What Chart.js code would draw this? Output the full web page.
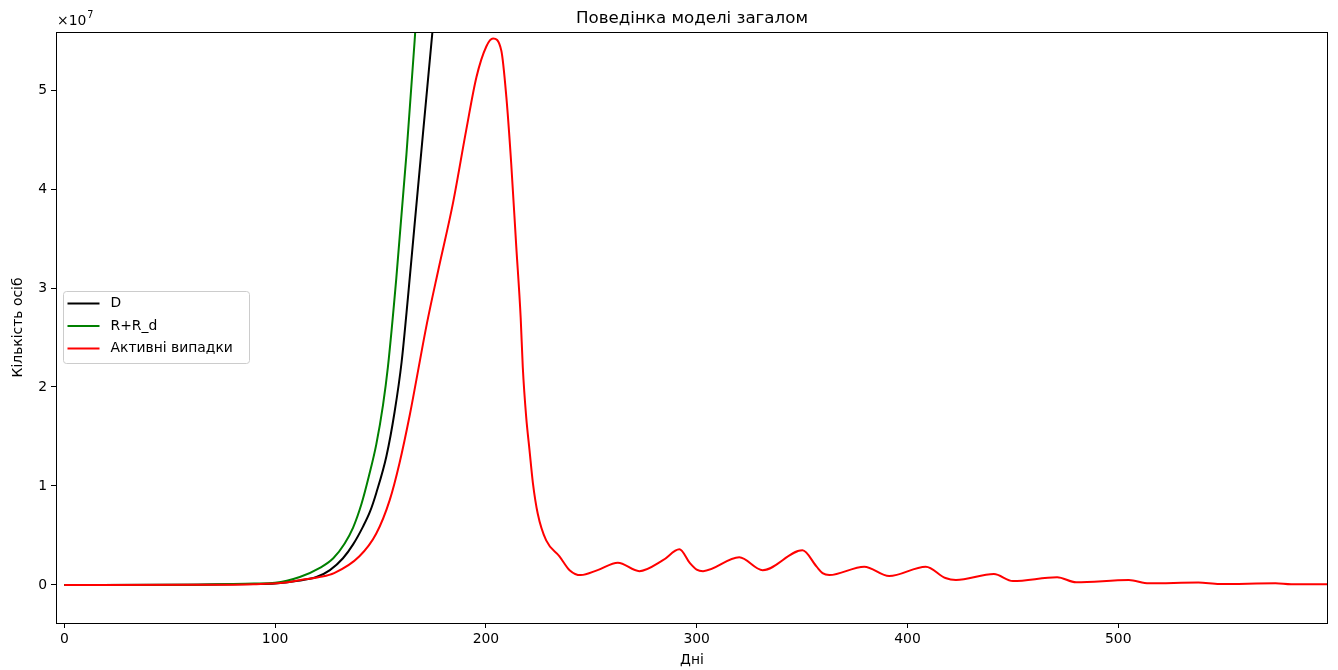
<!DOCTYPE html>
<html lang="uk">
<head>
<meta charset="UTF-8">
<title>Поведінка моделі загалом</title>
<style>
    html, body { margin: 0; padding: 0; background: #fff; }
    #wrap { width: 1338px; height: 670px; }
</style>
</head>
<body>
<div id="wrap"><canvas id="canvas"></canvas></div>

<script src="https://cdn.jsdelivr.net/npm/chart.js@4.4.0/dist/chart.umd.min.js"></script>
<script>
    // all values are in units of 10^7 persons
    const dDays = [0, 60, 90, 100, 110, 119.6, 126, 132.2, 137, 141.7, 145, 148, 152.8, 156.7, 160, 163, 166, 170.1, 174.9, 177];
    const dValues = [0, 0.002, 0.01, 0.016, 0.04, 0.08, 0.15, 0.27, 0.41, 0.59, 0.74, 0.93, 1.3, 1.75, 2.25, 2.9, 3.6, 4.55, 5.65, 6.15];

    const rDays = [0, 60, 90, 100, 111.7, 121, 127.6, 133, 137, 141, 144.5, 148, 151.2, 153.5, 157.5, 162.3, 166.2, 168];
    const rValues = [0, 0.003, 0.015, 0.022, 0.08, 0.17, 0.27, 0.42, 0.58, 0.82, 1.1, 1.42, 1.82, 2.2, 3.1, 4.35, 5.5, 6.1];

    const activeDays = [0, 60, 90, 105, 112, 121, 128, 140, 148, 154.4, 159, 164, 167, 172, 177.4, 184.4, 190.7, 195.5,
        200.2, 203.4, 207.3, 209.7, 212, 214.4, 216.5, 217.5, 219.1, 220.7, 222.3, 224.6, 228.6, 234.9, 239.7, 245,
        253, 262.6, 272.8, 284, 291.8, 296.8, 300, 303, 320.2, 331.3, 350.2, 356.9, 359.7, 362.9, 379.5, 391.3,
        408.7, 418, 423, 441, 450, 471, 480, 505, 514.5, 538, 548, 574.6, 582, 599.5];
    const activeValues = [0, 0.002, 0.008, 0.025, 0.05, 0.08, 0.12, 0.29, 0.52, 0.86, 1.23, 1.73, 2.07, 2.64, 3.18, 3.86, 4.60, 5.13,
        5.44, 5.52, 5.40, 4.93, 4.26, 3.42, 2.7, 2.2, 1.70, 1.36, 1.03, 0.72, 0.45, 0.29, 0.15, 0.10,
        0.15, 0.225, 0.14, 0.25, 0.36, 0.22, 0.155, 0.14, 0.28, 0.15, 0.35, 0.185, 0.12, 0.10, 0.185, 0.09,
        0.185, 0.07, 0.05, 0.11, 0.04, 0.078, 0.027, 0.05, 0.017, 0.024, 0.01, 0.017, 0.007, 0.007];

    const yTicks = [0, 1, 2, 3, 4, 5];
    const xTicks = [0, 100, 200, 300, 400, 500];

    const FONT = 'DejaVu Sans';

    const toPoints = (xs, ys) => xs.map((x, i) => ({ x: x, y: ys[i] }));

    const line = (label, xs, ys, color, order) => ({
        label: label,
        data: toPoints(xs, ys),
        borderColor: color,
        backgroundColor: color,
        borderWidth: 2,
        pointRadius: 0,
        fill: false,
        cubicInterpolationMode: 'monotone',
        order: order
    });

    // title, offset text, axis labels, frame and legend
    const decor = {
        id: 'decor',
        afterDraw(chart) {
            const ctx = chart.ctx;
            const a = chart.chartArea;
            ctx.save();

            ctx.strokeStyle = '#000';
            ctx.lineWidth = 1;
            ctx.strokeRect(a.left + 0.5, a.top + 0.5, a.right - a.left - 1, a.bottom - a.top);

            ctx.fillStyle = '#000';
            ctx.textBaseline = 'alphabetic';
            ctx.textAlign = 'center';
            ctx.font = '16.67px "' + FONT + '"';
            ctx.fillText('Поведінка моделі загалом', (a.left + a.right) / 2, 23);

            ctx.textAlign = 'left';
            ctx.font = '13.9px "' + FONT + '"';
            ctx.fillText('×10', a.left + 1, 25);
            const w = ctx.measureText('×10').width;
            ctx.font = '9.7px "' + FONT + '"';
            ctx.fillText('7', a.left + 1 + w + 1, 18);

            ctx.font = '13.9px "' + FONT + '"';
            ctx.textAlign = 'center';
            ctx.textBaseline = 'middle';
            ctx.fillText('Дні', (a.left + a.right) / 2, 660);

            ctx.save();
            ctx.translate(18, (a.top + a.bottom) / 2);
            ctx.rotate(-Math.PI / 2);
            ctx.fillText('Кількість осіб', 0, 0);
            ctx.restore();

            // legend box
            const bx = a.left + 7.5, by = a.top + 259.5, bw = 186, bh = 72, r = 3;
            ctx.beginPath();
            ctx.moveTo(bx + r, by);
            ctx.arcTo(bx + bw, by, bx + bw, by + bh, r);
            ctx.arcTo(bx + bw, by + bh, bx, by + bh, r);
            ctx.arcTo(bx, by + bh, bx, by, r);
            ctx.arcTo(bx, by, bx + bw, by, r);
            ctx.closePath();
            ctx.fillStyle = 'rgba(255,255,255,0.8)';
            ctx.fill();
            ctx.strokeStyle = '#cccccc';
            ctx.stroke();

            ctx.textAlign = 'left';
            ctx.textBaseline = 'middle';
            chart.data.datasets.forEach((ds, i) => {
                const cy = by + 12 + i * 22.5;
                ctx.strokeStyle = ds.borderColor;
                ctx.lineWidth = 2;
                ctx.beginPath();
                ctx.moveTo(bx + 4, cy);
                ctx.lineTo(bx + 36, cy);
                ctx.stroke();
                ctx.fillStyle = '#000';
                ctx.fillText(ds.label, bx + 47, cy);
            });

            ctx.restore();
        }
    };

    const tickFont = { family: FONT, size: 13.9 };

    new Chart(document.querySelector('#canvas'), {
        type: 'line',
        data: {
            datasets: [
                line('D', dDays, dValues, '#000000', 3),
                line('R+R_d', rDays, rValues, '#008000', 2),
                line('Активні випадки', activeDays, activeValues, '#ff0000', 1)
            ]
        },
        options: {
            responsive: true,
            maintainAspectRatio: false,
            animation: false,
            events: [],
            layout: { padding: { left: 0, top: 32, right: 10, bottom: 0 } },
            plugins: {
                legend: { display: false },
                title: { display: false },
                tooltip: { enabled: false }
            },
            scales: {
                x: {
                    type: 'linear',
                    min: -3.95,
                    max: 599.5,
                    afterBuildTicks: (s) => { s.ticks = xTicks.map(v => ({ value: v })); },
                    afterFit: (s) => { s.height = 47; },
                    border: { display: false },
                    grid: { drawOnChartArea: false, drawTicks: true, tickLength: 5, tickColor: '#000', tickWidth: 1 },
                    ticks: { color: '#000', font: tickFont, padding: 3, maxRotation: 0 }
                },
                y: {
                    type: 'linear',
                    min: -0.384,
                    max: 5.586,
                    afterBuildTicks: (s) => { s.ticks = yTicks.map(v => ({ value: v })); },
                    afterFit: (s) => { s.width = 56; },
                    border: { display: false },
                    grid: { drawOnChartArea: false, drawTicks: true, tickLength: 5, tickColor: '#000', tickWidth: 1 },
                    ticks: { color: '#000', font: tickFont, padding: 4, callback: (v) => String(v) }
                }
            }
        },
        plugins: [decor]
    });
</script>
</body>
</html>
